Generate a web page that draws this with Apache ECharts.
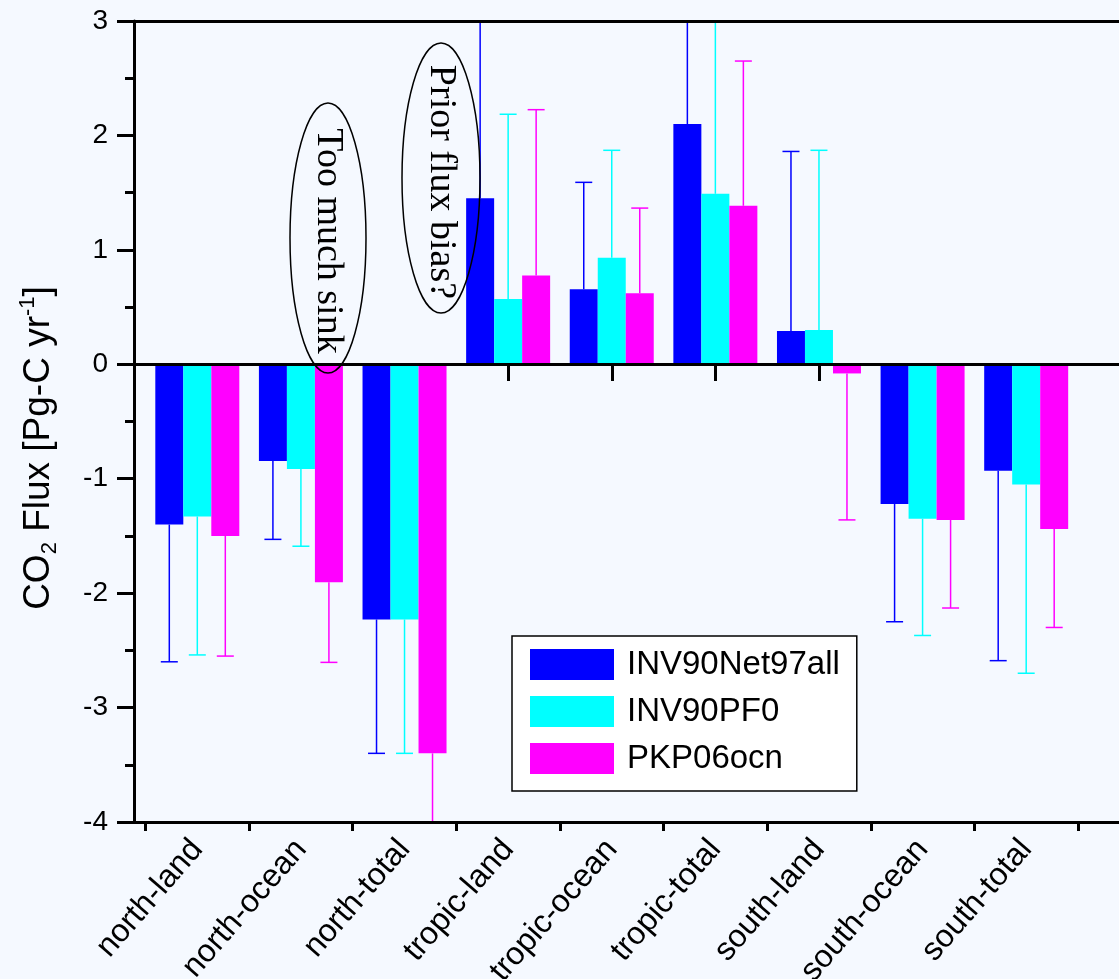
<!DOCTYPE html>
<html>
<head>
<meta charset="utf-8">
<script src="https://cdn.jsdelivr.net/npm/echarts@6/dist/echarts.min.js"></script>
<style>
html,body{margin:0;padding:0;background:#F5F9FF;}
#chart{width:1119px;height:979px;}
</style>
</head>
<body>
<div id="chart"></div>
<script>
const categories = ['north-land','north-ocean','north-total','tropic-land','tropic-ocean','tropic-total','south-land','south-ocean','south-total'];
const seriesNames = ['INV90Net97all','INV90PF0','PKP06ocn'];
const inv90net97all    = [-1.40, -0.845, -2.23, 1.45, 0.655, 2.10, 0.29, -1.22, -0.93];
const inv90net97allErr = [-2.60, -1.53, -3.40, 3.40, 1.59, 3.50, 1.86, -2.25, -2.59];
const inv90pf0         = [-1.33, -0.915, -2.23, 0.57, 0.93, 1.49, 0.30, -1.35, -1.05];
const inv90pf0Err      = [-2.54, -1.59, -3.40, 2.185, 1.87, 3.30, 1.87, -2.37, -2.70];
const pkp06ocn         = [-1.50, -1.905, -3.40, 0.775, 0.62, 1.385, -0.08, -1.36, -1.44];
const pkp06ocnErr      = [-2.55, -2.605, -4.30, 2.225, 1.365, 2.65, -1.36, -2.13, -2.30];
const yTicks = {min: -4, max: 3, interval: 1};

const colors = ['#0000FF', '#00FFFF', '#FF00FF'];
const SANS = '"Liberation Sans", Arial, Helvetica, sans-serif';
const SERIF = '"Liberation Serif", "Times New Roman", serif';
const BAR_W = 28;

const values = [inv90net97all, inv90pf0, pkp06ocn];
const errs = [inv90net97allErr, inv90pf0Err, pkp06ocnErr];

function errRenderer(k) {
  return function (params, api) {
    const i = api.value(0), v = api.value(1), e = api.value(2);
    const p0 = api.coord([i, v]);
    const p1 = api.coord([i, e]);
    const cx = p0[0] + (k - 1) * BAR_W;
    const st = {stroke: colors[k], lineWidth: 1.5};
    return {
      type: 'group',
      children: [
        {type: 'line', shape: {x1: cx, y1: p0[1], x2: cx, y2: p1[1]}, style: st},
        {type: 'line', shape: {x1: cx - 8.5, y1: p1[1], x2: cx + 8.5, y2: p1[1]}, style: st}
      ]
    };
  };
}

const series = [];
seriesNames.forEach(function (name, k) {
  series.push({
    name: name, type: 'bar', xAxisIndex: 0, yAxisIndex: 0,
    barWidth: BAR_W, barGap: '0%',
    itemStyle: {color: colors[k]},
    data: values[k]
  });
});
seriesNames.forEach(function (name, k) {
  series.push({
    name: name + ' err', type: 'custom', xAxisIndex: 0, yAxisIndex: 0,
    clip: true, z: 3,
    renderItem: errRenderer(k),
    data: values[k].map(function (v, i) { return [i, v, errs[k][i]]; })
  });
});
series.push({
  name: 'frame', type: 'scatter', xAxisIndex: 1, yAxisIndex: 1,
  symbolSize: 0, silent: true, clip: false,
  data: [[0.5, 0]],
  markLine: {
    silent: true, symbol: ['none', 'none'],
    label: {show: false},
    lineStyle: {color: '#000', width: 3, type: 'solid'},
    data: [{yAxis: yTicks.max}, {yAxis: 0}, {yAxis: yTicks.min}]
  }
});

const chart = echarts.init(document.getElementById('chart'), null, {renderer: 'canvas'});
chart.setOption({
  animation: false,
  backgroundColor: '#F5F9FF',
  grid: [
    {left: 145.5, right: 41, top: 21, bottom: 157, containLabel: false, outerBoundsMode: 'none'},
    {left: 134, right: 0, top: 21, bottom: 157, containLabel: false, outerBoundsMode: 'none'},
    {left: 145.5, right: 41, top: 364, bottom: 157, containLabel: false, outerBoundsMode: 'none'}
  ],
  xAxis: [
    {gridIndex: 0, type: 'category', data: categories, position: 'bottom',
     axisLine: {show: false, onZero: false}, axisTick: {show: false},
     axisLabel: {rotate: 49, interval: 0, fontSize: 32, color: '#000', margin: 22, fontFamily: SANS}},
    {gridIndex: 1, type: 'value', min: 0, max: 1, show: false},
    {gridIndex: 2, type: 'category', data: categories, position: 'top',
     axisLine: {show: false}, axisLabel: {show: false},
     axisTick: {show: true, inside: true, interval: 0, length: 9, lineStyle: {color: '#000', width: 3}}},
    {gridIndex: 2, type: 'category', data: categories, position: 'top',
     axisLine: {show: false}, axisLabel: {show: false},
     axisTick: {show: true, inside: true, interval: 0, alignWithLabel: true, length: 17, lineStyle: {color: '#000', width: 3}}}
  ],
  yAxis: [
    {gridIndex: 0, type: 'value', min: yTicks.min, max: yTicks.max, interval: yTicks.interval, show: false},
    {gridIndex: 1, type: 'value', min: yTicks.min, max: yTicks.max, interval: yTicks.interval,
     axisLine: {show: true, onZero: false, lineStyle: {color: '#000', width: 3}},
     axisTick: {show: true, length: 17, lineStyle: {color: '#000', width: 3}},
     minorTick: {show: true, splitNumber: 2, length: 9, lineStyle: {color: '#000', width: 3}},
     splitLine: {show: false},
     axisLabel: {fontSize: 28, color: '#000', margin: 26, fontFamily: SANS},
     name: '{n|CO}{sub|2}{n| Flux [Pg-C yr}{sup|-1}{n|]}',
     nameLocation: 'middle', nameRotate: 90, nameGap: 95,
     nameTextStyle: {
       fontSize: 37, color: '#000', fontFamily: SANS, verticalAlign: 'middle',
       padding: [0, 53, 0, 0],
       rich: {
         n: {fontSize: 37, lineHeight: 44, verticalAlign: 'middle', color: '#000', fontFamily: SANS},
         sub: {fontSize: 22, lineHeight: 22, verticalAlign: 'bottom', color: '#000', fontFamily: SANS},
         sup: {fontSize: 22, lineHeight: 22, verticalAlign: 'top', color: '#000', fontFamily: SANS}
       }
     }},
    {gridIndex: 2, type: 'value', min: 0, max: 1, show: false}
  ],
  legend: {
    data: seriesNames, orient: 'vertical', left: 512, top: 636,
    itemWidth: 84, itemHeight: 31, itemGap: 14, icon: 'rect',
    backgroundColor: '#FFFFFF', borderColor: '#000', borderWidth: 1.5, borderRadius: 0,
    padding: [12, 17, 16, 18], selectedMode: false,
    textStyle: {fontSize: 33, color: '#000', fontFamily: SANS, padding: [0, 0, 0, 8]}
  },
  graphic: [
    {type: 'ellipse', shape: {cx: 328, cy: 238, rx: 38, ry: 135}, style: {fill: null, stroke: '#000', lineWidth: 1.5}, z: 100, silent: true},
    {type: 'ellipse', shape: {cx: 441, cy: 178, rx: 39, ry: 135}, style: {fill: null, stroke: '#000', lineWidth: 1.5}, z: 100, silent: true},
    {type: 'text', x: 328, y: 241, rotation: -Math.PI / 2, z: 100, silent: true,
     style: {text: 'Too much sink', fontSize: 38, fontFamily: SERIF, fill: '#000', align: 'center', verticalAlign: 'middle'}},
    {type: 'text', x: 441, y: 182, rotation: -Math.PI / 2, z: 100, silent: true,
     style: {text: 'Prior flux bias?', fontSize: 38, fontFamily: SERIF, fill: '#000', align: 'center', verticalAlign: 'middle'}}
  ],
  series: series
});
</script>
</body>
</html>
